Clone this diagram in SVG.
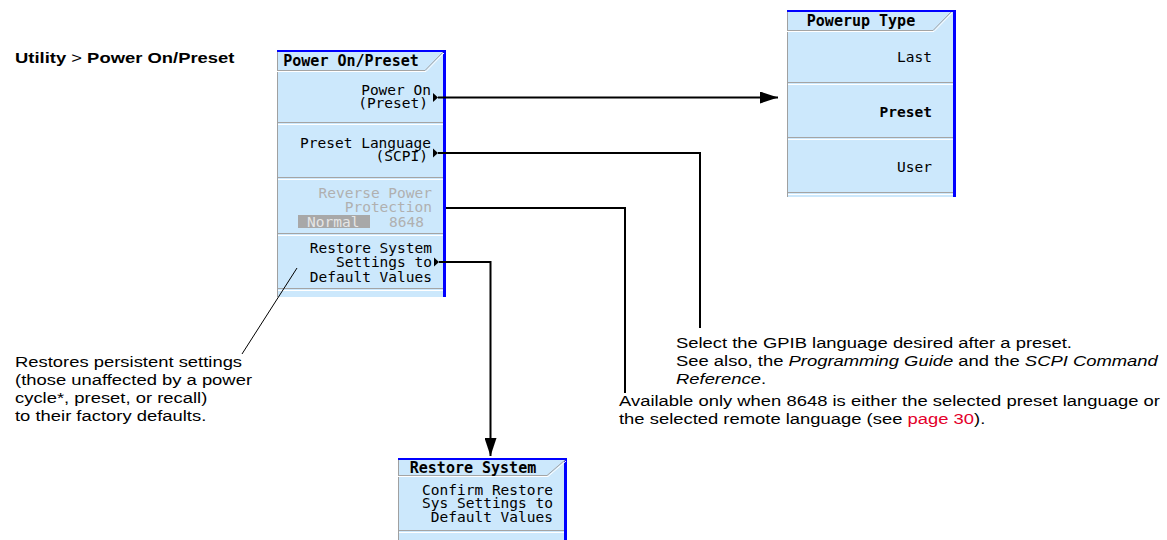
<svg xmlns="http://www.w3.org/2000/svg" width="1167" height="540" viewBox="0 0 1167 540">
<defs>
<style>
.bg{fill:#ffffff}
.pf{fill:#cce8fc}
.lb{stroke:#a0a0a0;stroke-width:1;fill:none}
.sepg{stroke:#a4a4a4;stroke-width:1;fill:none}
.sepw{stroke:#ffffff;stroke-width:1;fill:none}
.blue{fill:#0000ff}
.mono{font-family:"DejaVu Sans Mono","Liberation Mono",monospace;font-size:14.5px;fill:#000}
.hdr{font-family:"DejaVu Sans Mono","Liberation Mono",monospace;font-size:15px;font-weight:bold;fill:#000;text-anchor:middle}
.r{text-anchor:end}
.dim{fill:#b0b0b0}
.note{font-family:"Liberation Sans",Arial,sans-serif;font-size:14.5px;fill:#000}
.conn{stroke:#000;stroke-width:2;fill:none}
.thin{stroke:#000;stroke-width:1;fill:none}
.tri{fill:#000}
</style>
<marker id="ah" markerUnits="userSpaceOnUse" markerWidth="18" markerHeight="12" refX="18" refY="6" orient="auto">
<path d="M0,0 L18,6 L0,12 z" fill="#000"/>
</marker>
</defs>
<rect class="bg" x="0" y="0" width="1167" height="540"/>

<g id="title" transform="translate(15,0) scale(1.27,1)">
<text class="note" x="0" y="63"><tspan font-weight="bold">Utility</tspan> &gt; <tspan font-weight="bold">Power On/Preset</tspan></text>
</g>

<g id="panel-power-on-preset">
<rect class="pf" x="277" y="50" width="169" height="247"/>
<line class="lb" x1="277.5" y1="50" x2="277.5" y2="297"/>
<rect class="blue" x="277" y="50" width="169" height="2"/>
<rect class="blue" x="443" y="50" width="3" height="247"/>
<path class="sepg" d="M277,70.5 H425 L443,52"/>
<path class="sepw" d="M277,71.5 H426 L444,53"/>
<text class="hdr" x="351" y="66">Power On/Preset</text>
<path class="sepg" d="M278,122.5 H443"/><path class="sepw" d="M278,124.5 H443"/>
<path class="sepg" d="M278,177.5 H443"/><path class="sepw" d="M278,179.5 H443"/>
<path class="sepg" d="M278,233.5 H443"/><path class="sepw" d="M278,235.5 H443"/>
<path class="sepg" d="M278,288.5 H443"/><path class="sepw" d="M278,290.5 H443"/>
<text class="mono r" x="431" y="95">Power On</text>
<text class="mono r" x="428" y="108">(Preset)</text>
<path class="tri" d="M433,93 L438,97.5 L433,102 z"/>
<text class="mono r" x="431" y="148">Preset Language</text>
<text class="mono r" x="428" y="161">(SCPI)</text>
<path class="tri" d="M433,148.5 L438,153 L433,157.5 z"/>
<text class="mono r dim" x="432" y="198">Reverse Power</text>
<text class="mono r dim" x="432" y="212">Protection</text>
<rect x="298" y="215" width="72" height="13" fill="#a8a8a8"/>
<text class="mono" x="307" y="227" style="fill:#e6e6e6">Normal</text>
<text class="mono r dim" x="424" y="227">8648</text>
<text class="mono r" x="432" y="253">Restore System</text>
<text class="mono r" x="432" y="267">Settings to</text>
<path class="tri" d="M434,257.5 L439,262 L434,266.5 z"/>
<text class="mono r" x="432" y="282">Default Values</text>
</g>

<g id="panel-powerup-type">
<rect class="pf" x="787" y="10" width="169" height="187"/>
<line class="lb" x1="787.5" y1="10" x2="787.5" y2="197"/>
<rect class="blue" x="787" y="10" width="169" height="2"/>
<rect class="blue" x="953" y="10" width="3" height="187"/>
<path class="sepg" d="M787,30.5 H933 L951,12"/>
<path class="sepw" d="M787,31.5 H934 L952,13"/>
<text class="hdr" x="861" y="26">Powerup Type</text>
<path class="sepg" d="M788,82.5 H953"/><path class="sepw" d="M788,84.5 H953"/>
<path class="sepg" d="M788,137.5 H953"/><path class="sepw" d="M788,139.5 H953"/>
<path class="sepg" d="M788,192.5 H953"/><path class="sepw" d="M788,194.5 H953"/>
<text class="mono r" x="932" y="62">Last</text>
<text class="mono r" x="932" y="117" font-weight="bold">Preset</text>
<text class="mono r" x="932" y="172">User</text>
</g>

<g id="panel-restore-system">
<rect class="pf" x="398" y="458" width="169" height="82"/>
<line class="lb" x1="398.5" y1="458" x2="398.5" y2="540"/>
<rect class="blue" x="398" y="458" width="169" height="2"/>
<rect class="blue" x="564" y="458" width="3" height="82"/>
<path class="sepg" d="M398,475.5 H547 L565,460"/>
<path class="sepw" d="M398,476.5 H548 L566,461"/>
<text class="hdr" x="473" y="473">Restore System</text>
<text class="mono r" x="553" y="495">Confirm Restore</text>
<text class="mono r" x="553" y="508">Sys Settings to</text>
<text class="mono r" x="553" y="522">Default Values</text>
<path class="sepg" d="M399,530.5 H564"/><path class="sepw" d="M399,532.5 H564"/>
</g>

<g id="connectors">
<path class="conn" d="M438,97.5 H778" marker-end="url(#ah)"/>
<path class="conn" d="M438,153 H700 V328"/>
<path class="conn" d="M446,208 H625 V393"/>
<path class="conn" d="M439,262 H490.5 V456" marker-end="url(#ah)"/>
<path class="thin" d="M297,268 L242,354"/>
</g>

<g id="note-restore" transform="translate(15,0) scale(1.27,1)">
<text class="note" x="0" y="367">Restores persistent settings</text>
<text class="note" x="0" y="385">(those unaffected by a power</text>
<text class="note" x="0" y="403">cycle*, preset, or recall)</text>
<text class="note" x="0" y="421">to their factory defaults.</text>
</g>

<g id="note-language" transform="translate(676,0) scale(1.27,1)">
<text class="note" x="0" y="348">Select the GPIB language desired after a preset.</text>
<text class="note" x="0" y="366">See also, the <tspan font-style="italic">Programming Guide</tspan> and the <tspan font-style="italic">SCPI Command</tspan></text>
<text class="note" x="0" y="384"><tspan font-style="italic">Reference</tspan>.</text>
</g>

<g id="note-8648" transform="translate(619,0) scale(1.27,1)">
<text class="note" x="0" y="406">Available only when 8648 is either the selected preset language or</text>
<text class="note" x="0" y="424">the selected remote language (see <tspan fill="#e4002b">page 30</tspan>).</text>
</g>
</svg>
